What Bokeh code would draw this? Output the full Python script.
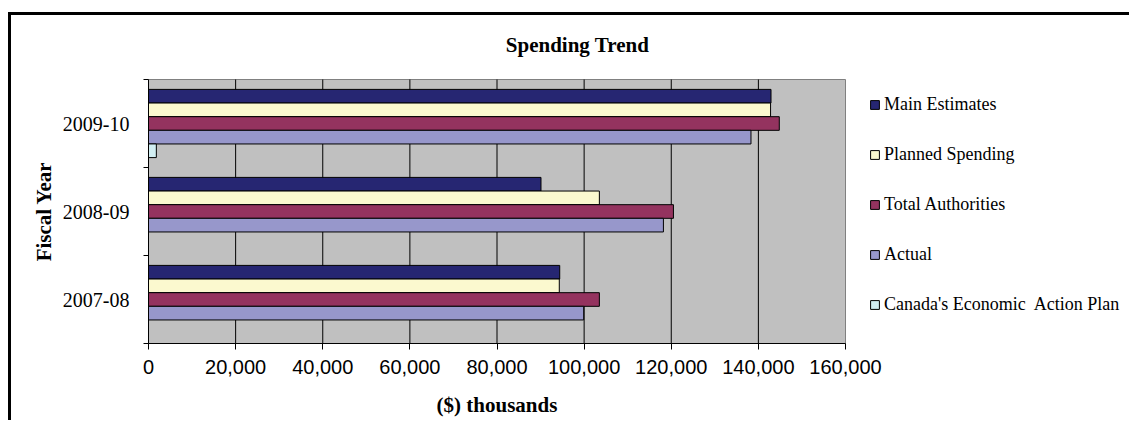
import math
import numpy as np
from bokeh.plotting import figure
from bokeh.models import (ColumnDataSource, Range1d, FixedTicker, NumeralTickFormatter,
                          Legend, LegendItem, Label)
from bokeh.transform import dodge
from bokeh.embed import file_html
from bokeh.resources import INLINE

# ---------------- data ----------------
years = ["2007-08", "2008-09", "2009-10"]
series_names = ["Main Estimates", "Planned Spending", "Total Authorities",
                "Actual", "Canada's Economic  Action Plan"]
main_estimates = [94400, 90100, 142900]
planned_spending = [94300, 103500, 142800]
total_authorities = [103500, 120500, 144800]
actual = [99900, 118200, 138300]
economic_action_plan = [None, None, 1800]
x_ticks = [0, 20000, 40000, 60000, 80000, 100000, 120000, 140000, 160000]

title_text = "Spending Trend"
x_title = "($) thousands"
y_title = "Fiscal Year"

colors = ["#262672", "#FBF9CF", "#94335F", "#9797CB", "#D1EEF2"]

# ---------------- build ----------------
ypos = [i + 0.5 for i in range(len(years))]
cols = ["main", "planned", "total", "actual", "eap"]
src = ColumnDataSource(dict(
    y=ypos,
    main=np.array(main_estimates, dtype=float),
    planned=np.array(planned_spending, dtype=float),
    total=np.array(total_authorities, dtype=float),
    actual=np.array(actual, dtype=float),
    eap=np.array(economic_action_plan, dtype=float),
))

# page geometry (pixels in the 1132x423 window)
OX, OY = 11, 15                       # canvas starts inside the chart border
PL, PR, PT, PB = 148, 845, 79, 343    # plot area (gray box) on the page
PW, PH = 1132, 423
W, H = PW - OX, PH - OY

x_max = x_ticks[-1]
n = len(years)
xpp = x_max / (PR - PL)               # data units per pixel
ypp = n / (PB - PT)
x_range = Range1d(-(PL - OX) * xpp, x_max + (PW - PR) * xpp)
y_range = Range1d(-(PH - PB) * ypp, n + (PT - OY) * ypp)

p = figure(width=W, height=H, output_backend="svg", toolbar_location=None,
           x_range=x_range, y_range=y_range, min_border=0)
p.styles = {"margin-left": "8px", "margin-top": "12px",
            "border-left": "3px solid black", "border-top": "3px solid black"}

p.background_fill_color = "white"
p.border_fill_color = "white"
p.outline_line_color = None
p.xgrid.visible = False
p.ygrid.visible = False

# gray plot area
p.quad(left=[0], right=[x_max], bottom=[0], top=[n],
       fill_color="#C0C0C0", line_color="#808080", line_width=1)
# vertical grid lines
p.segment(x0=x_ticks[1:-1], x1=x_ticks[1:-1], y0=0, y1=n,
          line_color="black", line_width=1)

bar_h = 0.155
offsets = [2 * bar_h, bar_h, 0.0, -bar_h, -2 * bar_h]
bars = []
for col, color, off in zip(cols, colors, offsets):
    r = p.hbar(y=dodge("y", off), left=0, right=col, height=bar_h, source=src,
               fill_color=color, line_color="black", line_width=1)
    bars.append(r)

def sx(page_x):
    return page_x - OX

def sy(page_y):
    return PH - page_y

row_h, row_pitch = 22, 50
last_center = 304.5
legend = Legend(items=[LegendItem(label=nm, renderers=[r]) for nm, r in zip(series_names, bars)],
                location=(sx(869), sy(last_center + row_h / 2)),
                glyph_width=11, glyph_height=11, label_height=row_h,
                spacing=row_pitch - row_h, label_standoff=4, padding=0, margin=0,
                border_line_color=None, background_fill_alpha=0,
                label_text_font="Liberation Serif", label_text_font_size="18px",
                label_text_baseline="middle",
                label_text_color="black")
p.add_layout(legend)

def add_text(text, px, py, size, bold=False, angle=0.0):
    p.add_layout(Label(x=sx(px), y=sy(py), x_units="screen", y_units="screen",
                       text=text, text_align="center", text_baseline="middle",
                       angle=angle, text_font="Liberation Serif",
                       text_font_style="bold" if bold else "normal",
                       text_font_size=size, text_color="black"))

add_text(title_text, 577, 44, "21px", bold=True)
add_text(x_title, (PL + PR) / 2, 404, "21px", bold=True)
add_text(y_title, 43, (PT + PB) / 2, "21px", bold=True, angle=math.pi / 2)

# x axis (fixed at y = 0 inside the canvas)
xa = p.xaxis[0]
xa.fixed_location = 0
xa.bounds = (0, x_max)
xa.ticker = FixedTicker(ticks=x_ticks)
xa.formatter = NumeralTickFormatter(format="0,0")
xa.axis_line_color = "black"
xa.major_tick_line_color = "black"
xa.major_tick_out = 6
xa.major_tick_in = 0
xa.minor_tick_line_color = None
xa.major_label_standoff = 10
xa.major_label_text_font = "Liberation Sans"
xa.major_label_text_font_size = "20px"
xa.major_label_text_color = "black"

# y axis (fixed at x = 0)
ya = p.yaxis[0]
ya.fixed_location = 0
ya.bounds = (0, n)
ya.ticker = FixedTicker(ticks=ypos, minor_ticks=list(range(n + 1)))
ya.major_label_overrides = {yv: lab for yv, lab in zip(ypos, years)}
ya.axis_line_color = "black"
ya.major_tick_line_color = None
ya.major_tick_out = 0
ya.major_tick_in = 0
ya.minor_tick_line_color = "black"
ya.minor_tick_out = 5
ya.minor_tick_in = 0
ya.major_label_standoff = 14
ya.major_label_text_font = "Liberation Serif"
ya.major_label_text_font_size = "20px"
ya.major_label_text_color = "black"

open("out.html", "w").write(file_html(p, INLINE))
